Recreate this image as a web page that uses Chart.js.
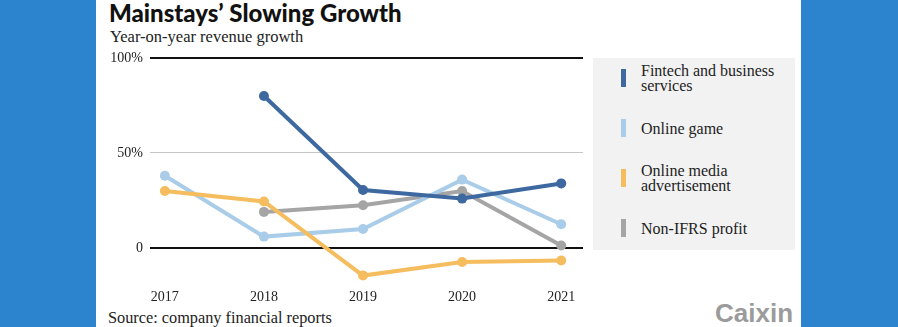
<!DOCTYPE html>
<html>
<head>
<meta charset="utf-8">
<script src="https://cdn.jsdelivr.net/npm/chart.js@4.4.1/dist/chart.umd.min.js"></script>
<style>
  html, body { margin: 0; padding: 0; }
  body {
    width: 898px; height: 327px; position: relative; overflow: hidden;
    background: #2c84cf; color: #222;
    font-family: "Liberation Serif", serif;
  }
  .panel { position: absolute; left: 96px; top: 0; width: 705px; height: 327px; background: #fff; }
  .title {
    position: absolute; left: 109px; top: 1px; margin: 0;
    font: 900 24px/24px Lato, sans-serif; color: #111; white-space: nowrap;
  }
  .subtitle { position: absolute; left: 110px; top: 29px; font-size: 16.5px; line-height: 16px; white-space: nowrap; }
  .source { position: absolute; left: 108px; top: 310px; font-size: 16.3px; line-height: 16px; white-space: nowrap; }
  .logo {
    position: absolute; left: 715px; top: 300px;
    font: bold 26px/26px "Liberation Sans", Arial, sans-serif; color: #9b9b9b;
  }
  .chart-wrap { position: absolute; left: 96px; top: 40px; width: 492px; height: 265px; }
  .legend-box { position: absolute; left: 593px; top: 58px; width: 202px; height: 192px; background: #f2f2f2; }
  .legend {
    position: absolute; left: 0; top: -5px; margin: 0; padding: 0; list-style: none;
  }
  .legend li { height: 50px; display: flex; align-items: center; }
  .legend .swatch { width: 5px; height: 18px; margin-left: 28px; margin-right: 15px; flex: none; }
  .legend .label { font-size: 16px; line-height: 15px; width: 150px; }
</style>
</head>
<body>
<div class="panel"></div>
<h1 class="title">Mainstays’ Slowing Growth</h1>
<div class="subtitle">Year-on-year revenue growth</div>
<div class="chart-wrap"><canvas id="chart" width="492" height="265"></canvas></div>
<div class="legend-box"><ul class="legend" id="legend"></ul></div>
<div class="source">Source: company financial reports</div>
<div class="logo">Caixin</div>

<script>
// values, % growth year on year
const years = [2017, 2018, 2019, 2020, 2021];
const fintech = [null, 80, 30.5, 26, 34];
const onlineGame = [38, 6, 10, 36, 12.5];
const mediaAds = [30, 24.5, -14.5, -7.4, -6.6];
const nonIfrs = [null, 19, 22.5, 30, 1.3];

const seriesNames = ['Fintech and business services', 'Online game', 'Online media advertisement', 'Non-IFRS profit'];
const seriesColors = ['#3e68a0', '#a9cde8', '#f5bd5e', '#a5a5a5'];
const yTicks = [0, 50, 100];

const allSeries = [fintech, onlineGame, mediaAds, nonIfrs];
const drawOrder = [1, 2, 0, 3]; // lower draws on top

const toPoints = values => years.map((yr, i) => ({ x: yr, y: values[i] }));

const datasets = allSeries.map((values, i) => ({
  label: seriesNames[i],
  data: toPoints(values),
  borderColor: seriesColors[i],
  backgroundColor: seriesColors[i],
  pointBackgroundColor: seriesColors[i],
  borderWidth: 4,
  pointRadius: 5,
  pointBorderWidth: 0,
  pointHoverRadius: 5,
  tension: 0,
  order: drawOrder[i]
}));

// legend as html so the labels can wrap like the original
const legend = document.getElementById('legend');
seriesNames.forEach((name, i) => {
  const li = document.createElement('li');
  li.innerHTML = `<span class="swatch" style="background:${seriesColors[i]}"></span><span class="label">${name}</span>`;
  legend.appendChild(li);
});

const tickFont = { family: '"Liberation Serif", serif', size: 14 };

new Chart(document.getElementById('chart'), {
  type: 'line',
  data: { datasets },
  options: {
    responsive: false,
    animation: false,
    devicePixelRatio: 1,
    layout: { padding: { top: 18, right: 0, bottom: 0, left: 0 } },
    plugins: { legend: { display: false }, tooltip: { enabled: false } },
    scales: {
      x: {
        type: 'linear',
        min: 2016.85,
        max: 2021.22,
        grid: { display: false, drawTicks: false },
        border: { display: false },
        afterBuildTicks: scale => { scale.ticks = years.map(v => ({ value: v })); },
        afterFit: scale => { scale.height = 19; },
        ticks: { color: '#222', font: tickFont, padding: 3, callback: v => String(v) }
      },
      y: {
        min: -20,
        max: 100,
        grid: {
          drawTicks: false,
          color: ctx => (ctx.tick && ctx.tick.value === 50 ? '#c6c6c6' : '#111'),
          lineWidth: ctx => (ctx.tick && ctx.tick.value === 50 ? 1 : 2)
        },
        border: { display: false },
        afterBuildTicks: scale => { scale.ticks = yTicks.map(v => ({ value: v })); },
        afterFit: scale => { scale.width = 54; },
        ticks: {
          color: '#222',
          font: tickFont,
          padding: 7,
          callback: v => (v === 0 ? '0' : v + '%')
        }
      }
    }
  }
});
</script>
</body>
</html>
